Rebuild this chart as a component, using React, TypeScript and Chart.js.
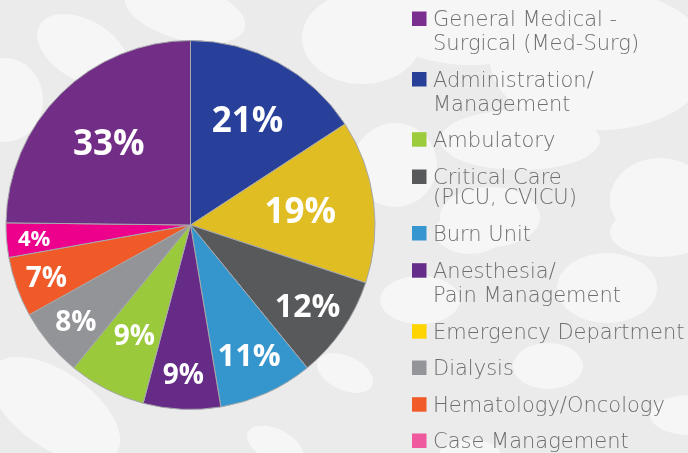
import React, { useEffect, useRef } from "react";
import { Chart, registerables } from "chart.js";

Chart.register(...registerables);

// ---- data (pie order, clockwise from 12 o'clock) ----
const CATEGORIES = [
  "Administration/Management",
  "Emergency Department",
  "Critical Care (PICU, CVICU)",
  "Burn Unit",
  "Anesthesia/Pain Management",
  "Ambulatory",
  "Dialysis",
  "Hematology/Oncology",
  "Case Management",
  "General Medical - Surgical (Med-Surg)",
];
const PERCENTS = [21, 19, 12, 11, 9, 9, 8, 7, 4, 33];
const SLICE_COLORS = [
  "#29409a",
  "#e1bd24",
  "#58595b",
  "#3596cd",
  "#652b87",
  "#9ac93b",
  "#929497",
  "#f05a29",
  "#ec008c",
  "#722d86",
];

// ---- legend (its own order and line breaks) ----
const LEGEND_ORDER = [
  "General Medical - Surgical (Med-Surg)",
  "Administration/Management",
  "Ambulatory",
  "Critical Care (PICU, CVICU)",
  "Burn Unit",
  "Anesthesia/Pain Management",
  "Emergency Department",
  "Dialysis",
  "Hematology/Oncology",
  "Case Management",
];
const LEGEND_TEXT = [
  ["General Medical -", "Surgical (Med-Surg)"],
  ["Administration/", "Management"],
  ["Ambulatory"],
  ["Critical Care", "(PICU, CVICU)"],
  ["Burn Unit"],
  ["Anesthesia/", "Pain Management"],
  ["Emergency Department"],
  ["Dialysis"],
  ["Hematology/Oncology"],
  ["Case Management"],
];
const LEGEND_COLORS = [
  "#7a2e8d",
  "#283f98",
  "#9ccb3b",
  "#58595b",
  "#3596d0",
  "#652d89",
  "#ffd400",
  "#939598",
  "#f15a29",
  "#ef5a9f",
];

// ---- styling / layout ----
const LABEL_RADIUS = [0.65, 0.6, 0.77, 0.77, 0.81, 0.67, 0.81, 0.83, 0.85, 0.63];
const LABEL_SIZE = [35, 35, 32, 31, 28, 28, 28, 28, 22, 35];
const LEGEND_BASELINE = [26, 86.5, 146.7, 184, 240.5, 277.7, 338.7, 375, 411.7, 448];
const LEGEND_LINE_GAP = [24, 24, 0, 20, 0, 24, 0, 0, 0, 0];
const LEGEND_X = 412;
const SWATCH = 14.5;
const LEGEND_TEXT_X = 433;
const BG_COLOR = "#ebebeb";
const BLOB_COLOR = "#f6f6f6";
const BG_BLOBS: number[][] = [
  [185, 12, 62, 28, 15],
  [83, 50, 50, 30, 30],
  [5, 100, 38, 42, 0],
  [362, 38, 60, 46, 0],
  [395, 165, 42, 42, 0],
  [470, 20, 90, 45, 0],
  [600, 60, 110, 70, 0],
  [520, 140, 80, 30, 0],
  [660, 200, 50, 42, 0],
  [490, 217, 50, 30, 0],
  [470, 232, 35, 22, 0],
  [660, 232, 50, 25, 0],
  [607, 288, 50, 35, 0],
  [420, 300, 40, 24, 0],
  [548, 366, 35, 23, 0],
  [690, 415, 40, 20, 0],
  [470, 452, 30, 12, 0],
  [345, 373, 30, 17, 25],
  [275, 445, 30, 16, 25],
  [55, 410, 75, 38, 35],
];

export default function App() {
  const ref = useRef<HTMLCanvasElement>(null);

  useEffect(() => {
    const canvas = ref.current!;

    const background = {
      id: "bgBlobs",
      beforeDraw(chart: any) {
        const { ctx, width, height } = chart;
        ctx.save();
        ctx.fillStyle = BG_COLOR;
        ctx.fillRect(0, 0, width, height);
        ctx.fillStyle = BLOB_COLOR;
        for (const [x, y, rx, ry, rot] of BG_BLOBS) {
          ctx.beginPath();
          ctx.ellipse(x, y, rx, ry, (rot * Math.PI) / 180, 0, Math.PI * 2);
          ctx.fill();
        }
        ctx.restore();
      },
    };

    const pctLabels = {
      id: "pctLabels",
      afterDatasetsDraw(chart: any) {
        const meta = chart.getDatasetMeta(0);
        const ctx = chart.ctx;
        ctx.save();
        ctx.fillStyle = "#ffffff";
        ctx.textAlign = "center";
        ctx.textBaseline = "alphabetic";
        meta.data.forEach((arc: any, i: number) => {
          const { x, y, startAngle, endAngle, outerRadius } = arc.getProps(
            ["x", "y", "startAngle", "endAngle", "outerRadius"],
            true
          );
          const mid = (startAngle + endAngle) / 2;
          const r = outerRadius * LABEL_RADIUS[i];
          const size = LABEL_SIZE[i];
          ctx.font = `700 ${size}px "Open Sans"`;
          const cx = x + Math.cos(mid) * r;
          const cy = y + Math.sin(mid) * r;
          ctx.fillText(`${PERCENTS[i]}%`, cx, cy + size * 0.36);
        });
        ctx.restore();
      },
    };

    const legend = {
      id: "customLegend",
      afterDraw(chart: any) {
        const ctx = chart.ctx;
        ctx.save();
        ctx.textAlign = "left";
        ctx.textBaseline = "alphabetic";
        LEGEND_ORDER.forEach((name, i) => {
          const base = LEGEND_BASELINE[i];
          ctx.fillStyle = LEGEND_COLORS[i];
          ctx.fillRect(LEGEND_X, base - SWATCH, SWATCH, SWATCH);
          ctx.fillStyle = "#6d6e71";
          ctx.font = `200 21px "DejaVu Sans"`;
          LEGEND_TEXT[i].forEach((line, j) => {
            ctx.fillText(line, LEGEND_TEXT_X, base + j * LEGEND_LINE_GAP[i]);
          });
        });
        ctx.restore();
      },
    };

    const chart = new Chart(canvas, {
      type: "pie",
      data: {
        labels: CATEGORIES,
        datasets: [
          {
            data: PERCENTS,
            backgroundColor: SLICE_COLORS,
            borderColor: "#a7a9ac",
            borderWidth: 1,
          },
        ],
      },
      options: {
        responsive: false,
        animation: false,
        layout: { padding: { left: 5, top: 40, right: 312, bottom: 43 } },
        plugins: {
          legend: { display: false },
          tooltip: { enabled: false },
        },
      },
      plugins: [background, pctLabels, legend],
    });

    return () => chart.destroy();
  }, []);

  return (
    <div style={{ position: "absolute", left: 0, top: 0, width: 688, height: 453 }}>
      <canvas ref={ref} width={688} height={453} style={{ display: "block" }} />
    </div>
  );
}
